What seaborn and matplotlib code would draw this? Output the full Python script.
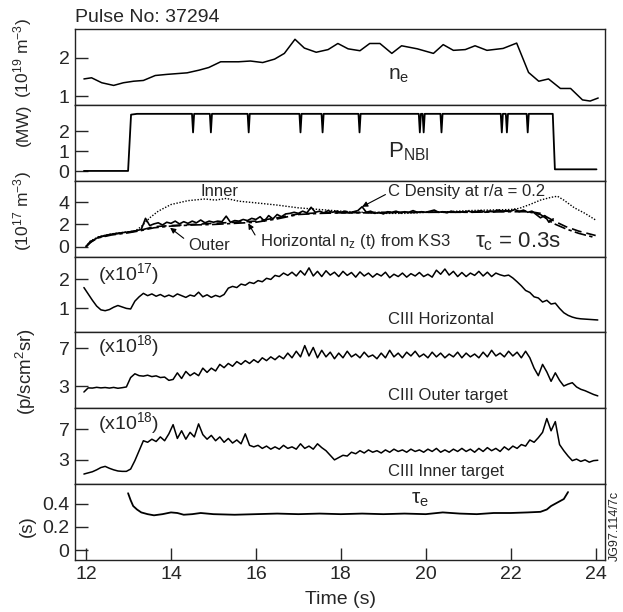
import numpy as np
import matplotlib
matplotlib.use('Agg')
import matplotlib.pyplot as plt
import seaborn as sns

# ---- data (time in s) ----
ne_t = [11.95, 12.13, 12.37, 12.65, 12.88, 13.12, 13.35, 13.63, 13.91, 14.38, 14.66, 14.89,
        15.17, 15.59, 15.87, 16.16, 16.44, 16.67, 16.92, 17.14, 17.42, 17.70, 17.93, 18.17,
        18.45, 18.68, 18.92, 19.20, 19.43, 19.80, 20.18, 20.41, 20.65, 20.93, 21.16, 21.44,
        21.82, 22.14, 22.42, 22.66, 22.89, 23.17, 23.41, 23.69, 23.87, 24.06]
ne_v = [1.45, 1.48, 1.35, 1.28, 1.35, 1.39, 1.41, 1.54, 1.57, 1.61, 1.68, 1.75,
        1.90, 1.90, 1.92, 1.88, 1.97, 2.12, 2.49, 2.26, 2.15, 2.22, 2.38, 2.24,
        2.19, 2.38, 2.38, 2.12, 2.32, 2.24, 2.12, 2.35, 2.20, 2.22, 2.32, 2.20,
        2.25, 2.39, 1.62, 1.39, 1.45, 1.20, 1.20, 0.90, 0.87, 0.95]

nbi_dips = [14.52, 14.94, 15.83, 17.05, 17.57, 18.44, 19.86, 19.95, 20.37, 21.79, 21.91, 22.40]
nbi_top, nbi_dip_level = 2.88, 1.95
nbi_on, nbi_off = 13.02, 22.99

inner_t = [12.0, 12.1, 12.3, 12.6, 12.9, 13.15, 13.3, 13.5, 13.7, 14.0, 14.4, 14.8, 15.05, 15.3,
           15.6, 16.0, 16.5, 17.0, 17.5, 18.0, 18.5, 19.0, 19.5, 20.0, 20.5, 21.0, 21.5, 22.0,
           22.2, 22.45, 22.7, 22.95, 23.1, 23.25, 23.5, 23.75, 24.0]
inner_v = [0.0, 0.5, 0.9, 1.15, 1.3, 1.4, 1.8, 2.6, 3.2, 3.8, 4.15, 4.3, 4.2, 4.35,
           4.1, 3.95, 3.75, 3.5, 3.35, 3.2, 3.1, 3.0, 3.0, 3.1, 3.15, 3.25, 3.3, 3.35,
           3.45, 3.8, 4.2, 4.45, 4.55, 4.2, 3.5, 3.0, 2.4]

outer_t = [12.0, 12.1, 12.3, 12.6, 13.0, 13.3, 13.6, 14.0, 14.5, 15.0, 15.5, 16.0, 16.5, 17.0,
           17.5, 18.0, 19.0, 20.0, 21.0, 22.0, 22.4, 22.7, 23.0, 23.3, 23.6, 24.0]
outer_v = [0.0, 0.45, 0.85, 1.1, 1.3, 1.5, 1.8, 1.9, 2.0, 2.1, 2.2, 2.3, 2.6, 2.95,
           3.05, 3.05, 3.1, 3.1, 3.15, 3.2, 3.2, 3.0, 2.35, 1.8, 1.4, 1.0]
cden_v = [0.0, 0.4, 0.8, 1.05, 1.25, 1.45, 1.7, 1.85, 1.95, 2.0, 2.1, 2.2, 2.5, 2.9,
          3.0, 3.05, 3.05, 3.1, 3.1, 3.15, 3.15, 2.9, 2.1, 1.6, 1.2, 0.8]

ks3_v = [0.0, 0.35, 0.65, 0.85, 0.95, 1.05, 1.12, 1.18, 1.22, 1.28,
         1.32, 1.38, 1.45, 1.55, 2.55, 1.9, 2.05, 2.15, 1.95, 2.2,
         2.1, 2.3, 2.05, 2.25, 2.1, 2.3, 2.15, 2.4, 2.15, 2.3,
         2.2, 2.3, 2.25, 2.75, 2.2, 2.35, 2.3, 2.45, 2.35, 2.55,
         2.45, 2.7, 2.3, 2.8, 2.5, 2.9, 2.7, 2.95, 3.0, 3.1,
         3.0, 3.2, 3.05, 3.55, 3.1, 3.2, 3.05, 3.25, 3.1, 3.2,
         3.1, 3.2, 3.05, 3.15, 3.25, 3.6, 3.1, 3.2, 3.0, 3.1,
         2.95, 3.15, 3.1, 3.2, 3.05, 3.15, 3.1, 3.25, 3.1, 3.15,
         3.1, 3.2, 3.3, 3.1, 3.15, 3.05, 3.2, 3.1, 3.15, 3.1,
         3.2, 3.1, 3.15, 3.25, 3.1, 3.2, 3.15, 3.3, 3.2, 3.25,
         3.2, 3.35, 3.15, 3.3, 3.1, 3.2, 2.9, 2.6, 2.8, 2.2,
         2.5]
ks3_t = np.round(np.linspace(12.0, 23.0, len(ks3_v)), 2)

ciii_h = [1.72, 1.50, 1.28, 1.08, 0.95, 0.92, 0.96, 1.04, 1.10, 1.05,
          1.00, 0.98, 1.25, 1.40, 1.52, 1.44, 1.50, 1.42, 1.48, 1.40,
          1.46, 1.40, 1.50, 1.44, 1.38, 1.46, 1.42, 1.56, 1.40, 1.47,
          1.38, 1.45, 1.40, 1.48, 1.70, 1.76, 1.72, 1.84, 1.80, 1.90,
          1.86, 1.96, 1.92, 2.04, 2.00, 2.14, 2.10, 2.22, 2.14, 2.25,
          2.12, 2.30, 2.15, 2.40, 2.12, 2.28, 2.10, 2.30, 2.15, 2.25,
          2.10, 2.28, 2.14, 2.24, 2.08, 2.26, 2.12, 2.22, 2.08, 2.20,
          2.12, 2.25, 2.06, 2.18, 2.10, 2.22, 2.08, 2.20, 2.12, 2.24,
          2.10, 2.18, 2.08, 2.32, 2.18, 2.36, 2.15, 2.28, 2.10, 2.24,
          2.10, 2.22, 2.14, 2.28, 2.12, 2.25, 2.10, 2.22, 2.16, 2.12,
          2.15, 2.05, 1.92, 1.78, 1.62, 1.55, 1.40, 1.36, 1.22, 1.28,
          1.15, 1.18, 1.00, 0.85, 0.76, 0.70, 0.66, 0.64, 0.63, 0.62,
          0.61, 0.60]
ciii_outer = [2.36, 2.80, 2.78, 2.86, 2.80, 2.84, 2.78, 2.85, 2.76, 2.82,
              2.90, 3.90, 4.30, 4.10, 4.05, 4.15, 4.00, 4.08, 3.90, 3.95,
              3.60, 3.70, 4.40, 3.80, 4.55, 4.10, 4.40, 4.10, 4.90, 4.45,
              4.90, 4.60, 5.30, 4.95, 5.40, 5.10, 5.60, 5.30, 5.70, 5.40,
              5.80, 5.50, 6.00, 5.70, 6.10, 5.80, 6.20, 5.90, 6.50, 6.00,
              6.70, 6.10, 7.30, 6.20, 7.10, 6.00, 6.80, 6.10, 6.60, 5.90,
              6.50, 6.00, 6.70, 6.10, 6.40, 6.00, 6.60, 6.10, 6.30, 5.90,
              6.50, 6.00, 6.80, 6.10, 6.50, 6.00, 6.60, 6.20, 6.70, 6.10,
              6.40, 6.00, 6.60, 6.10, 6.50, 6.00, 6.40, 6.10, 6.60, 6.00,
              6.50, 6.10, 6.40, 6.00, 6.60, 6.10, 6.80, 6.20, 6.50, 6.10,
              6.70, 6.20, 6.60, 6.00, 6.70, 6.00, 4.90, 4.10, 5.30, 4.50,
              3.50, 4.40, 3.60, 3.00, 3.20, 3.35, 2.90, 2.65, 2.50, 2.30,
              2.10, 1.95]
ciii_inner = [1.15, 1.30, 1.45, 1.70, 2.00, 2.15, 1.90, 1.70, 1.55, 1.50,
              1.50, 1.80, 2.90, 4.20, 5.50, 5.30, 5.70, 5.40, 6.00, 5.50,
              6.40, 7.60, 5.80, 6.80, 5.70, 6.60, 6.00, 7.70, 6.30, 5.70,
              6.20, 5.50, 6.00, 5.30, 5.80, 5.20, 5.60, 5.10, 6.40, 4.90,
              4.70, 4.90, 4.50, 4.80, 4.40, 4.70, 4.40, 4.90, 4.50, 4.70,
              4.40, 5.10, 4.50, 4.80, 4.40, 5.10, 4.60, 4.20, 3.60, 3.00,
              3.30, 3.60, 3.50, 4.00, 3.80, 4.20, 3.90, 4.30, 4.00, 4.20,
              3.90, 4.30, 4.00, 4.40, 4.10, 4.30, 4.00, 4.40, 4.10, 4.30,
              4.00, 4.40, 4.10, 4.50, 4.00, 4.30, 4.00, 4.40, 4.10, 4.50,
              4.10, 4.40, 4.00, 4.50, 4.10, 4.60, 4.20, 4.50, 4.10, 4.70,
              4.30, 4.80, 4.50, 5.00, 4.80, 5.60, 5.30, 5.90, 6.60, 8.40,
              6.80, 8.00, 5.00, 4.20, 3.50, 2.90, 3.10, 2.80, 3.00, 2.70,
              2.90, 2.95]
ciii_t = np.round(np.linspace(11.95, 24.05, len(ciii_h)), 2)

tau_t = [12.99, 13.05, 13.11, 13.2, 13.3, 13.45, 13.6, 13.8, 14.0, 14.15, 14.3, 14.5, 14.7,
         15.0, 15.5, 16.0, 16.5, 17.0, 17.5, 18.0, 18.5, 19.0, 19.5, 20.0, 20.4, 20.8,
         21.2, 21.6, 22.0, 22.4, 22.7, 22.85, 22.95, 23.1, 23.25, 23.35]
tau_v = [0.49, 0.43, 0.38, 0.35, 0.325, 0.31, 0.30, 0.31, 0.325, 0.32, 0.305, 0.31, 0.32,
         0.31, 0.305, 0.31, 0.315, 0.31, 0.315, 0.31, 0.315, 0.31, 0.315, 0.31, 0.325, 0.315,
         0.31, 0.32, 0.32, 0.325, 0.33, 0.35, 0.38, 0.41, 0.44, 0.50]

# P_NBI trace from the step times and the notch times
nbi_t = [11.95, nbi_on - 0.03, nbi_on + 0.04, 13.2]
nbi_v = [0.02, 0.02, nbi_top - 0.04, nbi_top]
for d in nbi_dips:
    nbi_t += [d - 0.025, d, d + 0.025]
    nbi_v += [nbi_top, nbi_dip_level, nbi_top]
nbi_t += [nbi_off, nbi_off + 0.05, 24.02]
nbi_v += [nbi_top, 0.1, 0.1]

# ---- style ----
sns.set_style('ticks')
plt.rcParams['font.family'] = ['Liberation Sans', 'DejaVu Sans']
plt.rcParams['mathtext.default'] = 'regular'
plt.rcParams['axes.edgecolor'] = '#222222'
plt.rcParams['axes.linewidth'] = 1.0

fig, axes = plt.subplots(7, 1, figsize=(6.23, 6.12), dpi=100, sharex=True)
fig.subplots_adjust(left=75/623, right=605/623, top=1-29/612, bottom=1-560/612, hspace=0)

K = 'black'
lw = 1.1

ax = axes[0]
sns.lineplot(x=ne_t, y=ne_v, ax=ax, color=K, lw=lw, estimator=None, sort=False)
ax.set_ylim(0.77, 2.76)
ax.set_yticks([1, 2])
ax.text(19.1, 1.55, 'n$_e$', fontsize=15, va='center')

ax = axes[1]
sns.lineplot(x=nbi_t, y=nbi_v, ax=ax, color=K, lw=1.3, estimator=None, sort=False)
ax.set_ylim(-0.47, 3.33)
ax.set_yticks([0, 1, 2])
ax.text(19.1, 1.0, 'P$_{NBI}$', fontsize=16, va='center')

ax = axes[2]
ax.plot(inner_t, inner_v, color=K, lw=1.0, ls=(0, (1, 1.2)))
ax.plot(outer_t, outer_v, color=K, lw=1.2, ls=(0, (6, 3)))
ax.plot(outer_t, cden_v, color=K, lw=1.2, ls=(0, (7, 2, 2, 2)))
sns.lineplot(x=ks3_t, y=ks3_v, ax=ax, color=K, lw=1.2, estimator=None, sort=False)
ax.set_ylim(-0.9, 5.95)
ax.set_yticks([0, 2, 4])
ax.text(14.7, 5.0, 'Inner', fontsize=12, va='center')
ax.text(19.1, 5.0, 'C Density at r/a = 0.2', fontsize=12, va='center')
ax.text(14.4, 0.1, 'Outer', fontsize=12, va='center')
ax.text(16.1, 0.45, 'Horizontal n$_z$ (t) from KS3', fontsize=12, va='center')
ax.text(21.15, 0.45, 'τ$_c$ = 0.3s', fontsize=16, va='center')
arr = dict(arrowstyle='-|>', lw=0.8, color=K, mutation_scale=8, shrinkA=0, shrinkB=0)
ax.annotate('', xy=(18.5, 3.6), xytext=(19.05, 4.7), arrowprops=arr)
ax.annotate('', xy=(13.98, 1.7), xytext=(14.3, 0.75), arrowprops=arr)
ax.annotate('', xy=(15.82, 2.1), xytext=(15.98, 1.05), arrowprops=arr)

ax = axes[3]
sns.lineplot(x=ciii_t, y=ciii_h, ax=ax, color=K, lw=lw, estimator=None, sort=False)
ax.set_ylim(0.17, 2.79)
ax.set_yticks([1, 2])
ax.text(12.27, 2.17, '(x10$^{17}$)', fontsize=14, va='center')
ax.text(19.1, 0.62, 'CIII Horizontal', fontsize=12, va='center')

ax = axes[4]
sns.lineplot(x=ciii_t, y=ciii_outer, ax=ax, color=K, lw=lw, estimator=None, sort=False)
ax.set_ylim(0.63, 8.70)
ax.set_yticks([3, 7])
ax.text(12.27, 7.25, '(x10$^{18}$)', fontsize=14, va='center')
ax.text(19.1, 2.0, 'CIII Outer target', fontsize=12, va='center')

ax = axes[5]
sns.lineplot(x=ciii_t, y=ciii_inner, ax=ax, color=K, lw=lw, estimator=None, sort=False)
ax.set_ylim(-0.17, 9.74)
ax.set_yticks([3, 7])
ax.text(12.27, 7.87, '(x10$^{18}$)', fontsize=14, va='center')
ax.text(19.1, 1.5, 'CIII Inner target', fontsize=12, va='center')

ax = axes[6]
sns.lineplot(x=tau_t, y=tau_v, ax=ax, color=K, lw=1.3, estimator=None, sort=False)
ax.set_ylim(-0.084, 0.568)
ax.set_yticks([0, 0.2, 0.4])
ax.set_yticklabels(['0', '0.2', '0.4'])
ax.text(19.65, 0.44, 'τ$_e$', fontsize=15, va='center')

for i, ax in enumerate(axes):
    ax.set_xlim(11.74, 24.22)
    ax.set_ylabel('')
    ax.set_xlabel('')
    for s in ax.spines.values():
        s.set_visible(True)
        s.set_color('#222222')
    ax.tick_params(axis='y', direction='in', length=9, width=1.0, labelsize=14, pad=4)
    if i < 6:
        ax.tick_params(axis='x', length=0, labelbottom=False)
axes[6].set_xticks([12, 14, 16, 18, 20, 22, 24])
axes[6].tick_params(axis='x', direction='in', length=9, width=1.0, labelsize=14, pad=4)

fig.text(75/623, 1-17/612, 'Pulse No: 37294', ha='left', va='center', fontsize=14)
fig.text(340/623, 1-600/612, 'Time (s)', ha='center', va='center', fontsize=14)
ylab = dict(rotation=90, ha='center', va='center', fontsize=12.5)
fig.text(23/623, 1-58/612, '(10$^{19}$ m$^{-3}$)', **ylab)
fig.text(23/623, 1-125/612, '(MW)', **ylab)
fig.text(23/623, 1-211/612, '(10$^{17}$ m$^{-3}$)', **ylab)
fig.text(26/623, 1-372/612, '(p/scm$^{2}$sr)', fontsize=13.5, rotation=90, ha='center', va='center')
fig.text(27/623, 1-526/612, '(s)', fontsize=13.5, rotation=90, ha='center', va='center')
fig.text(615/623, 1-526/612, 'JG97.114/7c', rotation=90, ha='center', va='center', fontsize=9)

fig.savefig('out.png', dpi=100)
